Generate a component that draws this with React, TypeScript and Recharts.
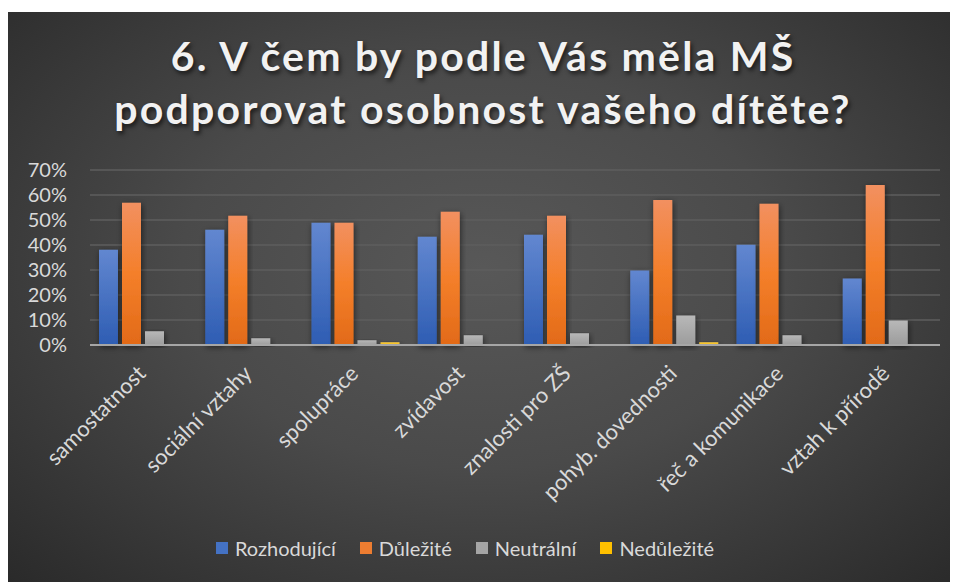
import React from 'react';
import { BarChart, Bar, XAxis, YAxis, CartesianGrid, Legend } from 'recharts';

// Survey: what should the kindergarten support in the child
const categories = [
  'samostatnost',
  'sociální vztahy',
  'spolupráce',
  'zvídavost',
  'znalosti pro ZŠ',
  'pohyb. dovednosti',
  'řeč a komunikace',
  'vztah k přírodě',
];
const rozhodujici = [38.1, 46.1, 48.9, 43.3, 44.1, 29.8, 40.1, 26.6];
const dulezite = [56.9, 51.7, 48.9, 53.3, 51.7, 58.0, 56.5, 64.0];
const neutralni = [5.5, 2.7, 1.9, 3.9, 4.7, 11.8, 3.9, 9.8];
const nedulezite = [0, 0, 1.1, 0, 0, 1.1, 0, 0];
const yTicks = [0, 10, 20, 30, 40, 50, 60, 70];

const series = [
  { key: 'rozhodujici', name: 'Rozhodující', fill: 'url(#gBlue)', swatch: '#4472c4' },
  { key: 'dulezite', name: 'Důležité', fill: 'url(#gOrange)', swatch: '#ed7d31' },
  { key: 'neutralni', name: 'Neutrální', fill: 'url(#gGray)', swatch: '#a5a5a5' },
  { key: 'nedulezite', name: 'Nedůležité', fill: 'url(#gYellow)', swatch: '#ffc000' },
];

const chartData = categories.map((name, i) => ({
  name,
  rozhodujici: rozhodujici[i],
  dulezite: dulezite[i],
  neutralni: neutralni[i],
  nedulezite: nedulezite[i],
}));

const FONT = 'Lato, "Noto Sans", sans-serif';
const TEXT = '#d9d9d9';

const CategoryTick = ({ x, y, payload }: any) => (
  <g transform={`translate(${x + 4},${y + 28})`}>
    <text transform="rotate(-45)" textAnchor="end" fill={TEXT} fontSize={22} fontFamily={FONT}>
      {payload.value}
    </text>
  </g>
);

const LegendContent = () => (
  <div
    style={{
      display: 'flex',
      justifyContent: 'center',
      gap: 24,
      paddingRight: 36,
      fontFamily: FONT,
      fontSize: 20,
      color: TEXT,
    }}
  >
    {series.map((s) => (
      <div key={s.key} style={{ display: 'flex', alignItems: 'center' }}>
        <span style={{ width: 12, height: 12, background: s.swatch, marginRight: 7, display: 'inline-block' }} />
        {s.name}
      </div>
    ))}
  </div>
);

export default function App() {
  return (
    <div
      style={{
        position: 'relative',
        width: 950,
        height: 570,
        marginTop: 4,
        background: 'radial-gradient(ellipse at 50% 45%, #585858 0%, #4a4a4a 45%, #2a2a2a 100%)',
      }}
    >
      <div
        style={{
          position: 'absolute',
          top: 17,
          left: 0,
          width: 950,
          textAlign: 'center',
          fontFamily: FONT,
          fontWeight: 700,
          fontSize: 41,
          lineHeight: '53px',
          letterSpacing: 2.2,
          color: '#f2f2f2',
          textShadow: '2px 3px 4px rgba(0,0,0,0.6)',
        }}
      >
        6. V čem by podle Vás měla MŠ
        <br />
        podporovat osobnost vašeho dítěte?
      </div>
      <BarChart
        width={950}
        height={570}
        data={chartData}
        margin={{ top: 158, right: 18, left: 0, bottom: 0 }}
        barSize={19}
        barGap={4}
        style={{ position: 'absolute', top: 0, left: 0 }}
      >
        <defs>
          <linearGradient id="gBlue" x1="0" y1="0" x2="0" y2="1">
            <stop offset="0%" stopColor="#6287d0" />
            <stop offset="100%" stopColor="#2e5db3" />
          </linearGradient>
          <linearGradient id="gOrange" x1="0" y1="0" x2="0" y2="1">
            <stop offset="0%" stopColor="#f29060" />
            <stop offset="50%" stopColor="#f47f2a" />
            <stop offset="100%" stopColor="#e26a18" />
          </linearGradient>
          <linearGradient id="gGray" x1="0" y1="0" x2="0" y2="1">
            <stop offset="0%" stopColor="#b8b8b8" />
            <stop offset="100%" stopColor="#9c9c9c" />
          </linearGradient>
          <linearGradient id="gYellow" x1="0" y1="0" x2="0" y2="1">
            <stop offset="0%" stopColor="#ffd24a" />
            <stop offset="100%" stopColor="#f0b400" />
          </linearGradient>
          <filter id="barShadow" x="-30%" y="-10%" width="160%" height="130%">
            <feDropShadow dx="1" dy="2" stdDeviation="3" floodColor="#000" floodOpacity="0.55" />
          </filter>
        </defs>
        <CartesianGrid vertical={false} stroke="#5e5e5e" strokeWidth={1.5} />
        <XAxis
          dataKey="name"
          interval={0}
          tickLine={false}
          tickSize={0}
          axisLine={{ stroke: '#a6a6a6', strokeWidth: 2 }}
          tick={<CategoryTick />}
          height={213}
        />
        <YAxis
          domain={[0, 70]}
          ticks={yTicks}
          interval={0}
          width={82}
          axisLine={false}
          tickLine={false}
          tickSize={0}
          tickMargin={23}
          tickFormatter={(v: number) => `${v}%`}
          tick={{ fill: TEXT, fontSize: 20, fontFamily: FONT }}
        />
        <Legend
          content={<LegendContent />}
          wrapperStyle={{ position: 'absolute', top: 524, left: 0, width: 950 }}
        />
        {series.map((s) => (
          <Bar
            key={s.key}
            dataKey={s.key}
            name={s.name}
            fill={s.fill}
            filter="url(#barShadow)"
            isAnimationActive={false}
          />
        ))}
      </BarChart>
    </div>
  );
}
